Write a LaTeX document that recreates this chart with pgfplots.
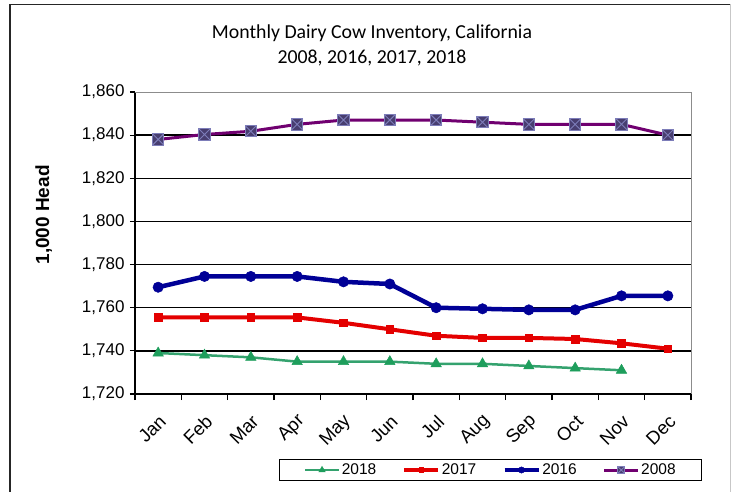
\documentclass[border=0pt]{standalone}
\usepackage{fontspec}
\setmainfont{Liberation Sans}
\newfontfamily\titlefont{Carlito}
\usepackage{pgfplots}
\pgfplotsset{compat=1.18}

\definecolor{c18}{RGB}{30,158,92}
\definecolor{c18l}{RGB}{52,162,110}
\definecolor{c17}{RGB}{228,0,0}
\definecolor{c16}{RGB}{0,0,150}
\definecolor{c08}{RGB}{112,0,112}
\definecolor{c08f}{RGB}{72,62,112}
\definecolor{c08d}{RGB}{125,125,185}

\pgfdeclareplotmark{sqx}{%
  \pgfpathrectangle{\pgfqpoint{-\pgfplotmarksize}{-\pgfplotmarksize}}{\pgfqpoint{2\pgfplotmarksize}{2\pgfplotmarksize}}%
  \pgfusepathqfillstroke
  \pgfpathmoveto{\pgfqpoint{-\pgfplotmarksize}{-\pgfplotmarksize}}%
  \pgfpathlineto{\pgfqpoint{\pgfplotmarksize}{\pgfplotmarksize}}%
  \pgfpathmoveto{\pgfqpoint{-\pgfplotmarksize}{\pgfplotmarksize}}%
  \pgfpathlineto{\pgfqpoint{\pgfplotmarksize}{-\pgfplotmarksize}}%
  \pgfusepathqstroke
}

\begin{document}
\begin{tikzpicture}[x=1pt,y=1pt]
\path[use as bounding box] (0,0) rectangle (734,491);
\draw[line width=1.5pt, black!85] (10,-2) -- (10,486.5) -- (730,486.5);
\draw[line width=1pt, black!22] (730,486.5) -- (730,-2);
\node[font=\titlefont\fontsize{19.8}{25}\selectfont, align=center] at (372,445.5)
  {Monthly Dairy Cow Inventory, California\\2008, 2016, 2017, 2018};
\begin{axis}[
  at={(135pt,97pt)}, anchor=south west,
  scale only axis, width=556pt, height=302pt,
  xmin=-0.5, xmax=11.5, ymin=1720, ymax=1860,
  ytick={1720,1740,...,1860},
  extra y ticks={1740,1760,...,1840},
  extra y tick labels={},
  extra y tick style={ymajorgrids=true, major tick length=0pt},
  major grid style={line width=1.3pt, black},
  xtick={0,...,11},
  xticklabels={Jan,Feb,Mar,Apr,May,Jun,Jul,Aug,Sep,Oct,Nov,Dec},
  minor xtick={-0.5,0.5,...,11.5},
  axis lines*=left,
  axis line style={line width=1.5pt, black},
  tick align=outside,
  major tick length=5pt,
  minor tick length=6pt,
  major x tick style={draw=none},
  minor x tick style={black, line width=1.2pt},
  major y tick style={black, line width=1.2pt},
  yticklabel style={font=\fontsize{17}{19}\selectfont, xshift=-2pt},
  xticklabel style={font=\fontsize{18.5}{20}\selectfont, rotate=45, anchor=east, xshift=-7pt, yshift=-17pt},
  /pgf/number format/.cd, 1000 sep={,}, assume math mode=true, /pgfplots/.cd,
  ylabel={1,000 Head},
  ylabel style={at={(axis description cs:-0.164,0.593)}, anchor=center, font=\bfseries\fontsize{19}{21}\selectfont},
  clip=false,
  legend columns=4,
  legend style={at={(axis description cs:0.6394,-0.2517)}, anchor=center, draw=black, line width=1.3pt,
    font=\fontsize{15.5}{18}\selectfont, inner xsep=24pt, inner ysep=3pt,
    /tikz/every even column/.append style={column sep=24.5pt},
    nodes={inner sep=1.5pt}},
  legend image code/.code={\draw[mark repeat=2,mark phase=2,#1, every mark/.append style={scale=0.6}] plot coordinates {(0pt,0pt) (17pt,0pt) (34pt,0pt)};},
]
\addplot[c18l, line width=2.5pt, mark=triangle*, mark size=6pt, mark options={fill=c18, draw=c18, line width=0.5pt}]
  coordinates {(0,1739)(1,1738)(2,1737)(3,1735)(4,1735)(5,1735)(6,1734)(7,1734)(8,1733)(9,1732)(10,1731)};
\addlegendentry{2018}
\addplot[c17, line width=4pt, mark=square*, mark size=3.8pt, mark options={fill=c17, draw=c17, line width=0.5pt}]
  coordinates {(0,1755.5)(1,1755.5)(2,1755.5)(3,1755.5)(4,1753)(5,1750)(6,1747)(7,1746)(8,1746)(9,1745.5)(10,1743.5)(11,1741)};
\addlegendentry{2017}
\addplot[c16, line width=4.5pt, mark=*, mark size=5.2pt, mark options={fill=c16, draw=c16, line width=0.5pt}]
  coordinates {(0,1769.5)(1,1774.5)(2,1774.5)(3,1774.5)(4,1772)(5,1771)(6,1760)(7,1759.5)(8,1759)(9,1759)(10,1765.5)(11,1765.5)};
\addlegendentry{2016}
\addplot[c08, line width=3pt, mark=sqx, mark size=5.6pt, mark options={fill=c08f, draw=c08d, line width=0.9pt}]
  coordinates {(0,1838)(1,1840.3)(2,1841.8)(3,1845)(4,1847)(5,1847)(6,1847)(7,1846)(8,1845)(9,1845)(10,1845)(11,1840)};
\addlegendentry{2008}
\draw[black!45, line width=1pt] (rel axis cs:0,1) -- (rel axis cs:1,1) -- (rel axis cs:1,0);
\end{axis}
\end{tikzpicture}
\end{document}
